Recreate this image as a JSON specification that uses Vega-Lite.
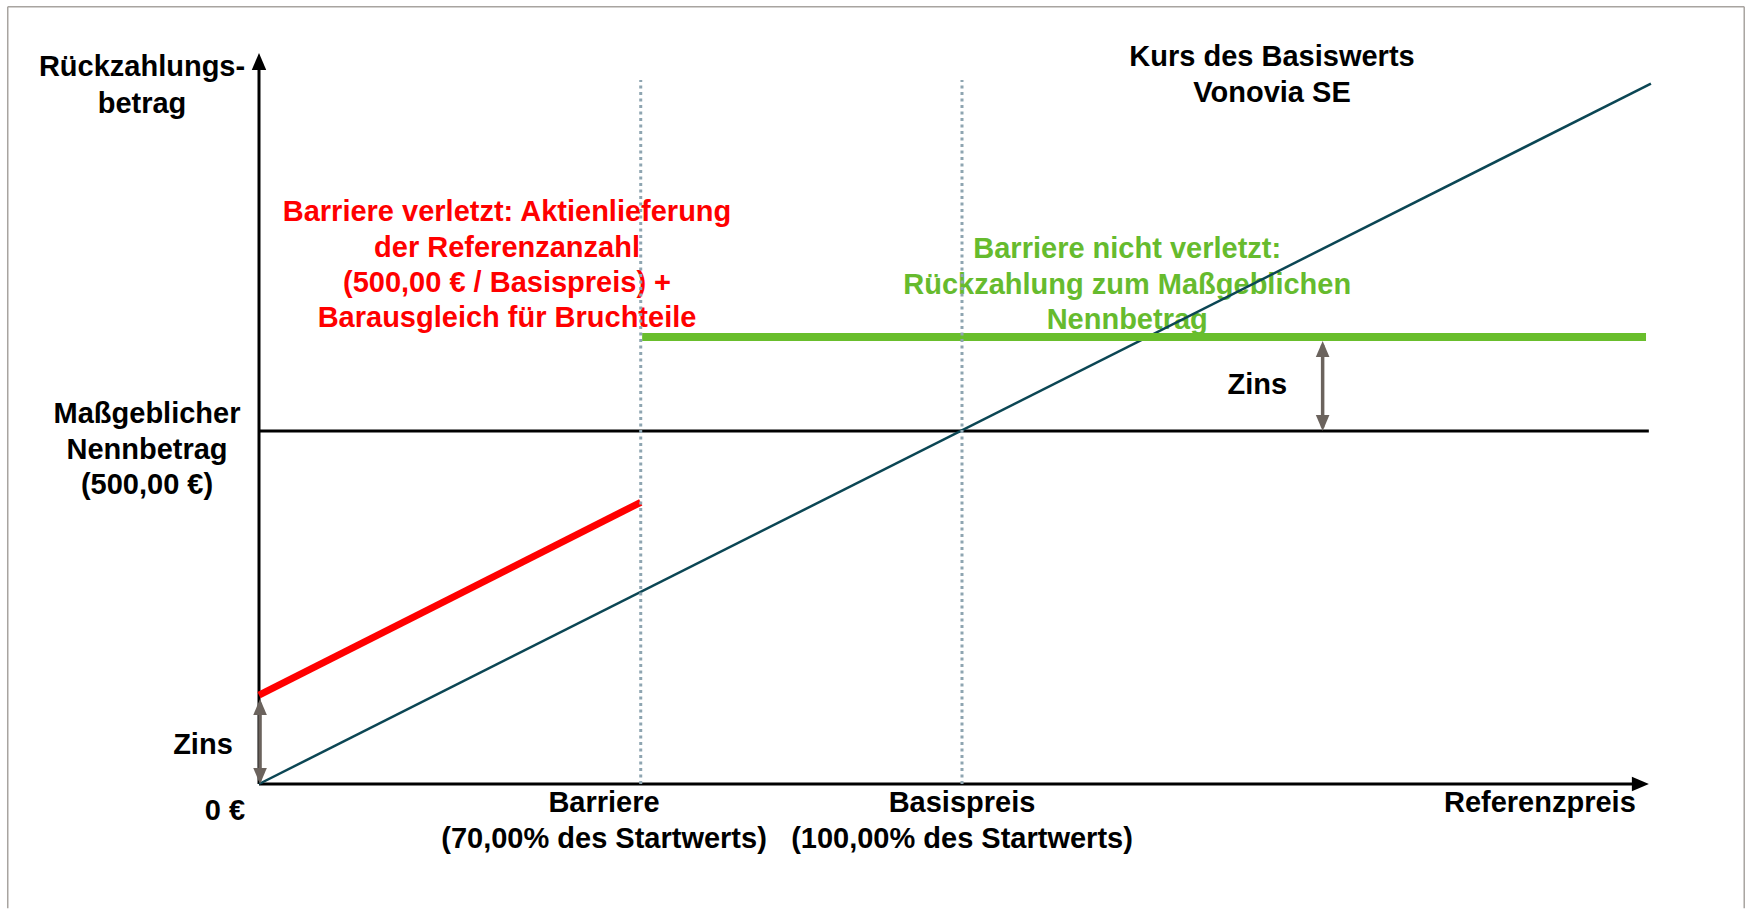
{
  "$schema": "https://vega.github.io/schema/vega-lite/v6.json",
  "width": 1750,
  "height": 909,
  "autosize": {"type": "fit", "contains": "padding"},
  "padding": {"left": 7, "top": 6, "right": 5, "bottom": 0},
  "background": "white",
  "config": {"view": {"stroke": null}},
  "datasets": {
    "frame": [
      {"side": "links", "x": -35.74, "y": -175.9, "x2": -35.74, "y2": 1100.9},
      {"side": "oben", "x": -35.74, "y": 1100.9, "x2": 211.27, "y2": 1100.9},
      {"side": "rechts", "x": 211.27, "y": -175.9, "x2": 211.27, "y2": 1100.9}
    ],
    "lines": [
      {"series": "Achse Y", "x": 0, "y": 0},
      {"series": "Achse Y", "x": 0, "y": 1015},
      {"series": "Achse X", "x": 0, "y": 0},
      {"series": "Achse X", "x": 196, "y": 0},
      {"series": "Kurs", "x": 0, "y": 0},
      {"series": "Kurs", "x": 198, "y": 992},
      {"series": "Nennbetrag", "x": 0, "y": 500},
      {"series": "Nennbetrag", "x": 197.7, "y": 500},
      {"series": "Verletzt", "x": 0, "y": 126},
      {"series": "Verletzt", "x": 54.3, "y": 399},
      {"series": "Nicht verletzt", "x": 54.5, "y": 633},
      {"series": "Nicht verletzt", "x": 197.3, "y": 633},
      {"series": "Barriere-Linie", "x": 54.3, "y": 0},
      {"series": "Barriere-Linie", "x": 54.3, "y": 997},
      {"series": "Basispreis-Linie", "x": 100, "y": 0},
      {"series": "Basispreis-Linie", "x": 100, "y": 997},
      {"series": "Zins oben", "x": 151.3, "y": 505},
      {"series": "Zins oben", "x": 151.3, "y": 622},
      {"series": "Zins unten", "x": 0.15, "y": 5},
      {"series": "Zins unten", "x": 0.15, "y": 115}
    ],
    "heads": [
      {"group": "axis", "dir": "up", "x": 0, "y": 1023.4},
      {"group": "axis", "dir": "right", "x": 196.5, "y": 0},
      {"group": "zins", "dir": "up", "x": 151.3, "y": 616.1},
      {"group": "zins", "dir": "down", "x": 151.3, "y": 511.3},
      {"group": "zins", "dir": "up", "x": 0.15, "y": 109},
      {"group": "zins", "dir": "down", "x": 0.15, "y": 11.3}
    ],
    "labels": [
      {"group": "black", "x": -16.64, "y": 1015.6, "text": "Rückzahlungs-"},
      {"group": "black", "x": -16.64, "y": 963.2, "text": "betrag"},
      {"group": "black", "x": -15.93, "y": 524.1, "text": "Maßgeblicher"},
      {"group": "black", "x": -15.93, "y": 473.1, "text": "Nennbetrag"},
      {"group": "black", "x": -15.93, "y": 423.5, "text": "(500,00 €)"},
      {"group": "black", "x": -4.84, "y": -38.2, "text": "0 €"},
      {"group": "black", "x": -7.97, "y": 55.2, "text": "Zins"},
      {"group": "black", "x": 49.08, "y": -26.9, "text": "Barriere"},
      {"group": "black", "x": 49.08, "y": -77.9, "text": "(70,00% des Startwerts)"},
      {"group": "black", "x": 100, "y": -26.9, "text": "Basispreis"},
      {"group": "black", "x": 100, "y": -77.9, "text": "(100,00% des Startwerts)"},
      {"group": "black", "x": 182.2, "y": -26.9, "text": "Referenzpreis"},
      {"group": "black", "x": 144.1, "y": 1029.7, "text": "Kurs des Basiswerts"},
      {"group": "black", "x": 144.1, "y": 978.8, "text": "Vonovia SE"},
      {"group": "black", "x": 142, "y": 565.2, "text": "Zins"},
      {"group": "red", "x": 35.28, "y": 810.2, "text": "Barriere verletzt: Aktienlieferung"},
      {"group": "red", "x": 35.28, "y": 759.2, "text": "der Referenzanzahl"},
      {"group": "red", "x": 35.28, "y": 709.6, "text": "(500,00 € / Basispreis) +"},
      {"group": "red", "x": 35.28, "y": 660.1, "text": "Barausgleich für Bruchteile"},
      {"group": "green", "x": 123.5, "y": 757.8, "text": "Barriere nicht verletzt:"},
      {"group": "green", "x": 123.5, "y": 706.8, "text": "Rückzahlung zum Maßgeblichen"},
      {"group": "green", "x": 123.5, "y": 657.2, "text": "Nennbetrag"}
    ]
  },
  "encoding": {
    "x": {"field": "x", "type": "quantitative", "axis": null, "scale": {"domain": [-35.846, 211.38], "nice": false, "zero": false}},
    "y": {"field": "y", "type": "quantitative", "axis": null, "scale": {"domain": [-177.05, 1101.98], "nice": false, "zero": false}}
  },
  "layer": [
    {
      "data": {"name": "frame"},
      "mark": {"type": "rule", "color": "#a8a4a0", "strokeWidth": 1.5},
      "encoding": {"x2": {"field": "x2"}, "y2": {"field": "y2"}}
    },
    {
      "data": {"name": "labels"},
      "transform": [{"filter": "datum.group === 'black'"}],
      "mark": {"type": "text", "font": "Liberation Sans", "fontWeight": "bold", "fontSize": 29, "color": "#000000", "align": "center", "baseline": "middle"},
      "encoding": {"text": {"field": "text"}}
    },
    {
      "data": {"name": "labels"},
      "transform": [{"filter": "datum.group === 'red'"}],
      "mark": {"type": "text", "font": "Liberation Sans", "fontWeight": "bold", "fontSize": 29, "color": "#ff0000", "align": "center", "baseline": "middle"},
      "encoding": {"text": {"field": "text"}}
    },
    {
      "data": {"name": "labels"},
      "transform": [{"filter": "datum.group === 'green'"}],
      "mark": {"type": "text", "font": "Liberation Sans", "fontWeight": "bold", "fontSize": 29, "color": "#66bb2e", "align": "center", "baseline": "middle"},
      "encoding": {"text": {"field": "text"}}
    },
    {
      "data": {"name": "lines"},
      "transform": [{"filter": "datum.series === 'Nennbetrag'"}],
      "mark": {"type": "line", "color": "#000000", "strokeWidth": 3},
      "encoding": {}
    },
    {
      "data": {"name": "lines"},
      "transform": [{"filter": "datum.series === 'Achse X' || datum.series === 'Achse Y'"}],
      "mark": {"type": "line", "color": "#000000", "strokeWidth": 3},
      "encoding": {"detail": {"field": "series"}}
    },
    {
      "data": {"name": "lines"},
      "transform": [{"filter": "datum.series === 'Kurs'"}],
      "mark": {"type": "line", "color": "#0b4654", "strokeWidth": 2.5},
      "encoding": {}
    },
    {
      "data": {"name": "lines"},
      "transform": [{"filter": "datum.series === 'Verletzt'"}],
      "mark": {"type": "line", "color": "#ff0000", "strokeWidth": 7, "strokeCap": "butt"},
      "encoding": {}
    },
    {
      "data": {"name": "lines"},
      "transform": [{"filter": "datum.series === 'Nicht verletzt'"}],
      "mark": {"type": "line", "color": "#69be2c", "strokeWidth": 8, "strokeCap": "butt"},
      "encoding": {}
    },
    {
      "data": {"name": "lines"},
      "transform": [{"filter": "datum.series === 'Barriere-Linie' || datum.series === 'Basispreis-Linie'"}],
      "mark": {"type": "line", "color": "#8ea5b1", "strokeWidth": 3, "strokeDash": [3, 3.5]},
      "encoding": {"detail": {"field": "series"}}
    },
    {
      "data": {"name": "lines"},
      "transform": [{"filter": "datum.series === 'Zins oben' || datum.series === 'Zins unten'"}],
      "mark": {"type": "line", "color": "#6b635d", "strokeWidth": 3.5},
      "encoding": {"detail": {"field": "series"}}
    },
    {
      "data": {"name": "heads"},
      "transform": [{"filter": "datum.group === 'axis'"}],
      "mark": {"type": "point", "filled": true, "color": "#000000", "opacity": 1, "size": 289, "strokeWidth": 0},
      "encoding": {"shape": {"field": "dir", "type": "nominal", "legend": null, "scale": {"domain": ["up", "down", "right"], "range": ["M0,-1L0.85,1L-0.85,1Z", "M0,1L0.85,-1L-0.85,-1Z", "M1,0L-1,-0.85L-1,0.85Z"]}}}
    },
    {
      "data": {"name": "heads"},
      "transform": [{"filter": "datum.group === 'zins'"}],
      "mark": {"type": "point", "filled": true, "color": "#6b635d", "opacity": 1, "size": 256, "strokeWidth": 0},
      "encoding": {"shape": {"field": "dir", "type": "nominal", "legend": null, "scale": {"domain": ["up", "down", "right"], "range": ["M0,-1L0.85,1L-0.85,1Z", "M0,1L0.85,-1L-0.85,-1Z", "M1,0L-1,-0.85L-1,0.85Z"]}}}
    }
  ]
}
